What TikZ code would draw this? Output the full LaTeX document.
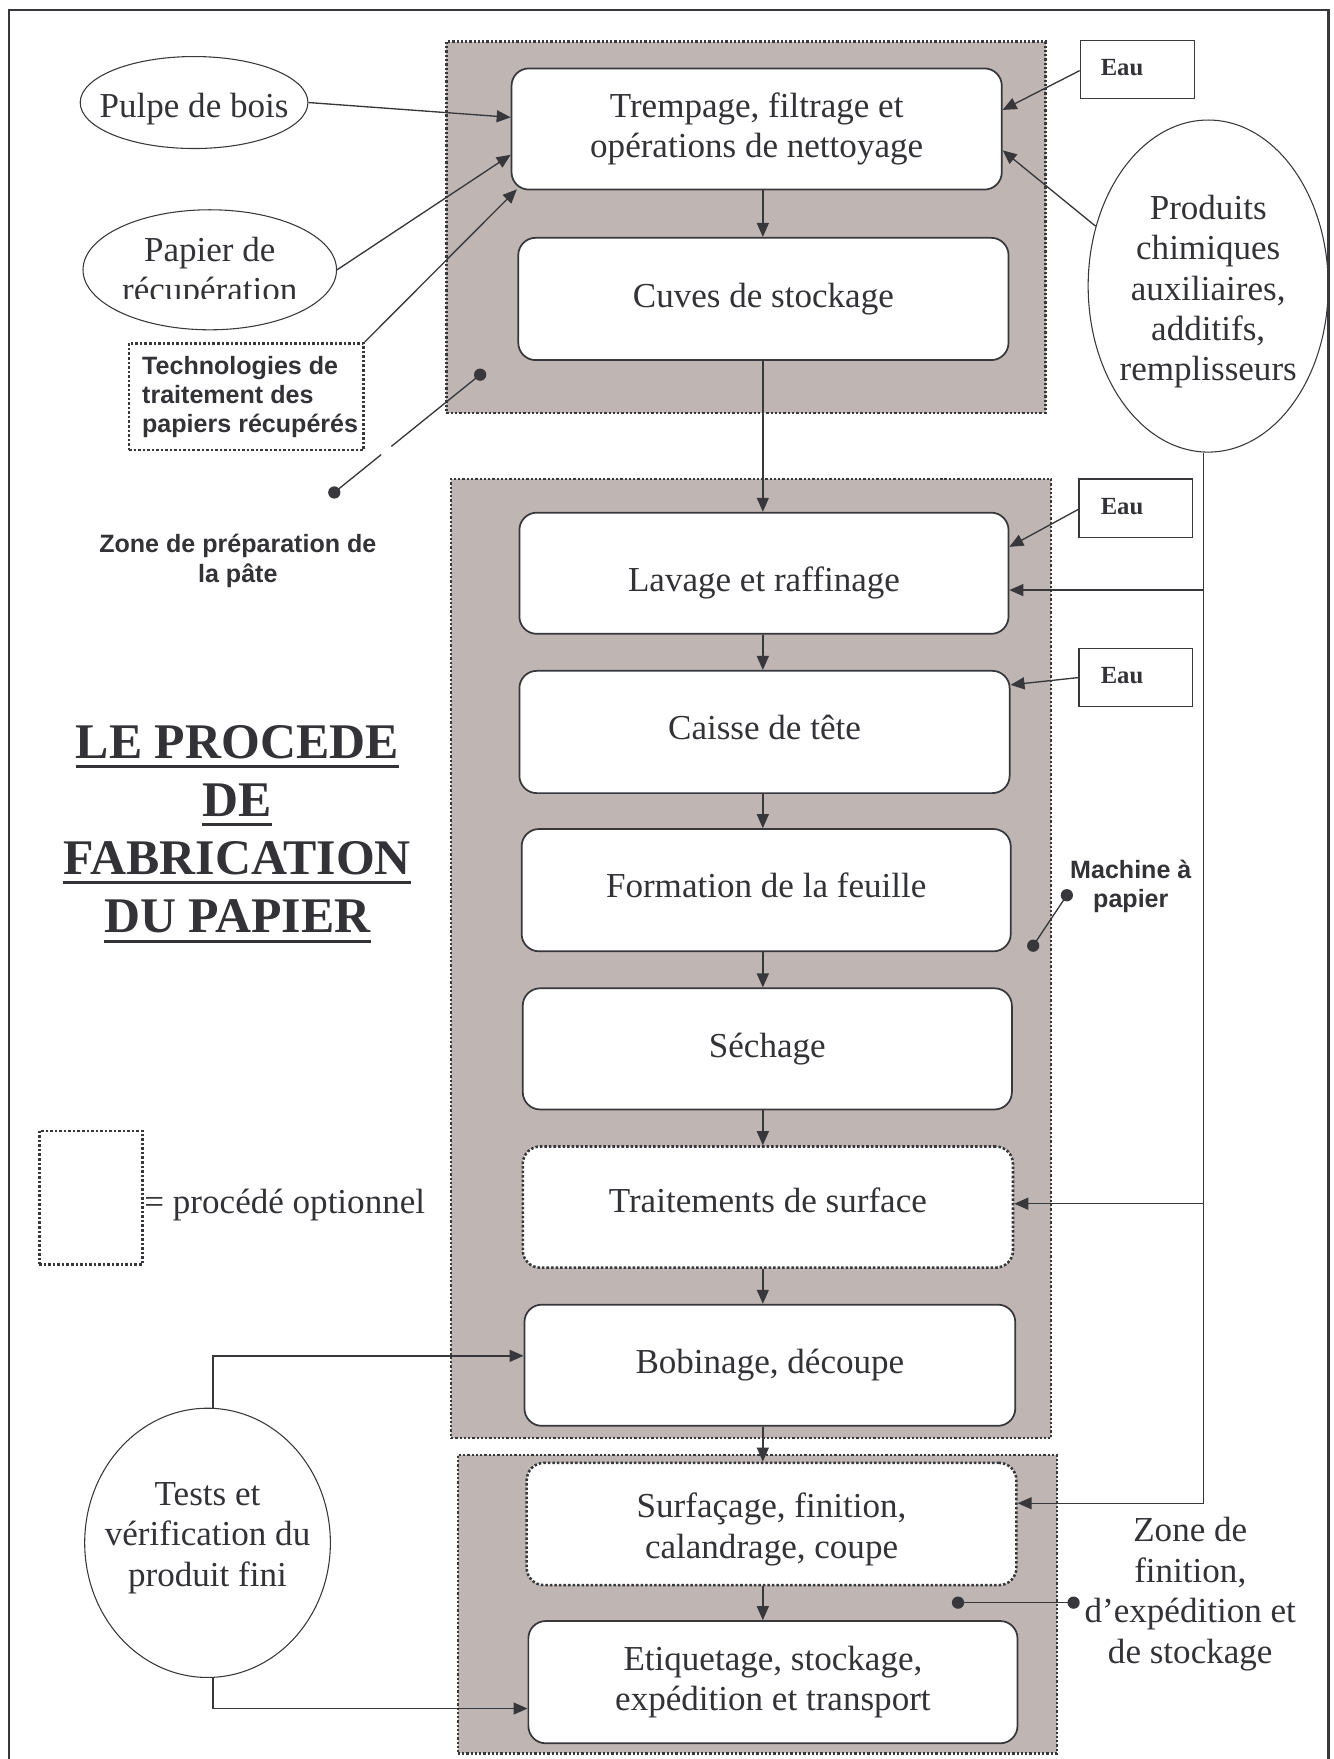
\documentclass[tikz,border=0pt]{standalone}
\usepackage{fontspec}
\setmainfont{Liberation Serif}
\newfontfamily\arialfont{Liberation Sans}
\usetikzlibrary{arrows.meta,shapes.geometric,calc,fit}
\definecolor{lc}{RGB}{55,55,60}
\definecolor{taupe}{RGB}{191,182,179}
\definecolor{tc}{RGB}{50,50,55}
\def\pxu{0.8415pt}
\newcommand\bxfont{\fontsize{26.3}{30.3}\selectfont}
\newcommand\ttlfont{\fontsize{37.4}{43}\selectfont\bfseries}
\newcommand\sbfont{\arialfont\bfseries\fontsize{18.8}{21.9}\selectfont}
\newcommand\eaufont{\fontsize{18.5}{21}\selectfont\bfseries}
\begin{document}
\begin{tikzpicture}[x=0.8415pt,y=-0.8415pt,
  every node/.style={text=tc},
  zone/.style={draw=lc, fill=taupe, line width=1.7pt, dash pattern=on 1.7pt off 1.5pt, inner sep=0pt},
  pbox/.style={draw=lc, fill=white, line width=1.3pt, rounded corners=13pt, inner sep=0pt, align=center, font=\bxfont},
  optbox/.style={pbox, dash pattern=on 1.9pt off 1.5pt, line width=1.9pt},
  dotbox/.style={draw=lc, line width=1.9pt, dash pattern=on 1.9pt off 1.5pt, inner sep=0pt},
  eaubox/.style={draw=lc, fill=white, line width=1.1pt, inner sep=0pt},
  ell/.style={draw=lc, ellipse, line width=0.8pt, inner sep=0pt},
  etext/.style={font=\bxfont, align=center, inner sep=0pt},
  sbtext/.style={font=\sbfont, align=center, inner sep=0pt},
  ln/.style={draw=lc, line width=1pt},
  arr/.style={draw=lc, line width=1pt, -{Triangle[length=10.5pt,width=9pt]}},
  ttl/.style={font=\ttlfont, inner sep=0pt, anchor=base},
  sz/.style 2 args={minimum width=#1*\pxu, minimum height=#2*\pxu},
]
\useasboundingbox (0,0) rectangle (1189,1568);
% outer frame
\draw[lc, line width=2pt] (8,1575) -- (8,9) -- (1184,9) -- (1184,1575);

% zones
\node[zone, fit={(398,37) (932,368)}] (z1) {};
\node[zone, fit={(402,427) (937,1282)}] (z2) {};
\node[zone, fit={(408,1297) (942,1563)}] (z3) {};

% process boxes
\node[pbox, sz={437}{108}] (b1) at (674.5,115) {Trempage, filtrage et\\opérations de nettoyage};
\node[pbox, sz={437}{109}] (b2) at (680.5,266.5) {Cuves de stockage};
\node[pbox, sz={436}{108}, label={[etext, yshift=-7.2pt, name=b3t]center:Lavage et raffinage}] (b3) at (681,511) {};
\node[pbox, sz={437}{109}, label={[etext, yshift=3.4pt, name=b4t]center:Caisse de tête}] (b4) at (681.5,652.5) {};
\node[pbox, sz={436}{109}, label={[etext, yshift=3.4pt, name=b5t]center:Formation de la feuille}] (b5) at (683,793.5) {};
\node[pbox, sz={436}{108}] (b6) at (684,935) {Séchage};
\node[optbox, sz={437}{108}, label={[etext, yshift=5pt, name=b7t]center:Traitements de surface}] (b7) at (684.5,1076) {};
\node[pbox, sz={437.5}{108}] (b8) at (686.25,1217) {Bobinage, découpe};
\node[optbox, sz={436.5}{109}, label={[etext, yshift=-4.2pt, name=b9t]center:Surfaçage, finition,\\calandrage, coupe}] (b9) at (687.75,1358.5) {};
\node[pbox, sz={436}{109}] (b10) at (689,1499.5) {Etiquetage, stockage,\\expédition et transport};

% water boxes
\node[eaubox, fit={(963,36) (1065,88)}] (e1) {};
\node[eaubox, fit={(962,427) (1063,479)}] (e2) {};
\node[eaubox, fit={(962,578) (1063,630)}] (e3) {};
\node[font=\eaufont, anchor=west, inner sep=0pt] (e1t) at (981,60.5) {Eau};
\node[font=\eaufont, anchor=west, inner sep=0pt] (e2t) at (981,451.5) {Eau};
\node[font=\eaufont, anchor=west, inner sep=0pt] (e3t) at (981,602.5) {Eau};

% ellipses
\node[ell, sz={203}{82}] (pulpe) at (173,91.4) {};
\node[etext] (pulpet) at (173,97) {Pulpe de bois};
\node[ell, sz={226}{107}] (papier) at (187,240.5) {};
\begin{scope}
\clip (60,180) rectangle (320,266);
\node[etext, anchor=base] (papt1) at (187,233) {Papier de};
\node[etext, anchor=base] (papt2) at (187,269) {récupération};
\end{scope}
\node[ell, sz={214}{296}] (chem) at (1077,255) {};
\node[etext] (chemt) at (1077,260) {Produits\\chimiques\\auxiliaires,\\additifs,\\remplisseurs};
\node[ell, sz={219}{240}] (tests) at (185,1375.3) {};
\node[etext] (testst) at (185,1371) {Tests et\\vérification du\\produit fini};

% technologies box
\node[dotbox, fit={(115,306) (324,401)}] (techbox) {};
\node[font=\sbfont, align=left, anchor=west, inner sep=0pt] (techt) at (126.5,354) {Technologies de\\traitement des\\papiers récupérés};

% legend
\node[dotbox, fit={(35,1008) (127,1127)}] (leg) {};
\node[etext, anchor=west] (legt) at (128.5,1074) {= procédé optionnel};

% side labels
\node[sbtext] (zprep) at (212,500) {Zone de préparation de\\la pâte};
\node[sbtext] (mach) at (1008,790.5) {Machine à\\papier};
\node[etext] (zfin) at (1061,1421) {Zone de\\finition,\\d’expédition et\\de stockage};

% title
\node[ttl] (t1) at (211.5,676) {LE PROCEDE};
\node[ttl] (t2) at (211.5,727.5) {DE};
\node[ttl] (t3) at (211.5,779.5) {FABRICATION};
\node[ttl] (t4) at (211.5,831.5) {DU PAPIER};
\foreach \t in {t1,t2,t3,t4}
  \draw[tc, line width=2.3pt] ($(\t.base west)+(0,7.5)$) -- ($(\t.base east)+(0,7.5)$);

% main flow
\coordinate (col) at (680,0);
\foreach \a/\b in {b1/b2,b2/b3,b3/b4,b4/b5,b5/b6,b6/b7,b7/b8,b8/b9,b9/b10}
  \draw[arr] (\a.south -| col) -- (\b.north -| col);

% inputs to first box
\draw[arr] (pulpe.east) -- ($(b1.west)+(0,-10.4)$);
\draw[arr] (papier.east) -- ($(b1.west)+(0,23)$);
\draw[arr] (techbox.north east) -- ($(b1.south west)+(5.5,-1)$);
\draw[arr] ($(e1.west)+(0,1)$) -- ($(b1.east)+(0,-17)$);
\draw[arr] (chem.152.5) -- ($(b1.east)+(0,19)$);

% water
\draw[arr] ($(e2.west)+(0,1)$) -- ($(b3.east)+(0,-23.5)$);
\draw[arr] (e3.west) -- ($(b4.east)+(0,-42)$);

% chemicals trunk
\coordinate (trunk) at ($(chem.south)+(-4,0)$);
\coordinate (in3) at ($(b3.east)+(0,15)$);
\coordinate (in7) at ($(b7.east)+(0,-3)$);
\coordinate (in9) at ($(b9.east)+(0,-18.5)$);
\draw[arr] (trunk) |- (in9);
\draw[arr] (trunk |- in3) -- (in3);
\draw[arr] (trunk |- in7) -- (in7);

% tests
\coordinate (tn) at ($(tests.north)+(5,0)$);
\coordinate (ts) at ($(tests.south)+(5,0)$);
\coordinate (in8) at ($(b8.west)+(0,-8.4)$);
\coordinate (in10) at ($(b10.west)+(0,23.5)$);
\draw[arr] (tn) |- (in8);
\draw[arr] (ts) |- (in10);

% callouts
\coordinate (d1) at (428,334);
\coordinate (d2) at (298,439);
\coordinate (d3) at (921,843);
\coordinate (d4) at (951,798);
\coordinate (d5) at (854,1428.6);
\coordinate (d6) at (957,1428.6);
\draw[ln, dash pattern=on 85.6pt off 9.8pt on 100pt] (d1) -- (d2);
\draw[ln] (d3) -- (d4);
\draw[ln] (d5) -- (d6);
\foreach \d in {d1,d2,d3,d4,d5,d6}
  \fill[lc] (\d) circle (4.6pt);
\end{tikzpicture}
\end{document}
